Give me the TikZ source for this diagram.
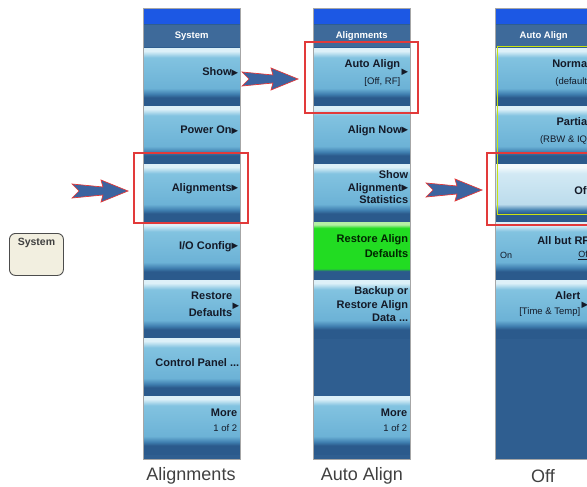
\documentclass[tikz,border=0pt]{standalone}
\usepackage{fontspec}
\setmainfont{Liberation Sans}
\newfontfamily\symfont{DejaVu Sans}

\definecolor{keyhigh}{HTML}{DDF0F8}
\definecolor{keylight}{HTML}{82C3E0}
\definecolor{keylow}{HTML}{6CB2D6}
\definecolor{keymid}{HTML}{3F7EAF}
\definecolor{keydark}{HTML}{2B5A8C}
\definecolor{onhigh}{HTML}{F2F9FC}
\definecolor{onlight}{HTML}{D2E9F4}
\definecolor{onlow}{HTML}{BCDCEC}
\definecolor{greenhigh}{HTML}{B4F0A4}
\definecolor{keygreen}{HTML}{22DC22}
\definecolor{panelblue}{HTML}{2F5E90}
\definecolor{hdrblue}{HTML}{3E6A9A}
\definecolor{barblue}{HTML}{1C58E4}
\definecolor{hlred}{HTML}{E23A3A}
\definecolor{arrowblue}{HTML}{3C64A0}
\definecolor{txtdark}{HTML}{141A28}
\definecolor{capfill}{HTML}{F2EFE0}

\pgfdeclareverticalshading{keyshade}{100bp}{color(0bp)=(keydark); color(32.5bp)=(keydark); color(35.5bp)=(keymid); color(40.5bp)=(keylow); color(67bp)=(keylight); color(72.5bp)=(keyhigh); color(100bp)=(keyhigh)}
\pgfdeclareverticalshading{keyonshade}{100bp}{color(0bp)=(keydark); color(32.5bp)=(keydark); color(35.5bp)=(keymid); color(40.5bp)=(onlow); color(67bp)=(onlight); color(72.5bp)=(onhigh); color(100bp)=(onhigh)}
\pgfdeclareverticalshading{keygreenshade}{100bp}{color(0bp)=(keydark); color(33bp)=(keydark); color(35bp)=(keygreen); color(70bp)=(keygreen); color(73bp)=(greenhigh); color(100bp)=(greenhigh)}

\newcommand{\ptr}{{\symfont\fontsize{8.5}{8}\selectfont\raisebox{0.6pt}{▶}}}
\newcommand{\smalltxt}{\mdseries\fontsize{9.5}{11}\selectfont}

\tikzset{
  softkey/.style={minimum width=97pt, minimum height=58pt, inner sep=0pt, anchor=north west, shade, shading=keyshade},
  keyon/.style={softkey, shading=keyonshade},
  keygo/.style={softkey, shading=keygreenshade},
  keytxt/.style={font=\bfseries\fontsize{11}{13.5}\selectfont, text=txtdark, align=right, inner sep=0pt, anchor=east},
  hdr/.style={minimum width=97pt, minimum height=22pt, inner sep=0pt, anchor=north west, fill=hdrblue, text=white, font=\bfseries\fontsize{9.5}{11}\selectfont},
  caption/.style={text=black!75, font=\fontsize{18}{20}\selectfont, inner sep=0pt},
  hlbox/.style={draw=hlred, line width=2pt},
  bigarrow/.style={fill=arrowblue, draw=hlred, line width=0.7pt, line join=miter}
}

\begin{document}
\begin{tikzpicture}[x=1pt, y=-1pt]
\useasboundingbox (0,0) rectangle (587,487);
\clip (0,0) rectangle (587,487);

% System menu
\fill[panelblue] (143,8) rectangle (240,459);
\fill[barblue] (143,8) rectangle (240,24);
\node[hdr] (sysh) at (143,25) {System};
\node[softkey] (sys1) at (143,48) {};
\node[softkey] (sys2) at (143,106) {};
\node[softkey] (sys3) at (143,164) {};
\node[softkey] (sys4) at (143,222) {};
\node[softkey] (sys5) at (143,280) {};
\node[softkey] (sys6) at (143,338) {};
\node[softkey] (sys7) at (143,396) {};
\draw[gray!70, line width=0.8pt] (143,8) rectangle (240,459);
\node[keytxt] (sys1t) at ([shift={(-2,-5)}]sys1.east) {Show\ptr};
\node[keytxt] (sys2t) at ([shift={(-2,-5)}]sys2.east) {Power On\ptr};
\node[keytxt] (sys3t) at ([shift={(-2,-5)}]sys3.east) {Alignments\ptr};
\node[keytxt] (sys4t) at ([shift={(-2,-5)}]sys4.east) {I/O Config\ptr};
\node[keytxt] (sys5t) at ([shift={(-8,-5)}]sys5.east) {Restore\\[3pt]Defaults};
\node[keytxt] (sys5p) at ([shift={(-1,-3)}]sys5.east) {\ptr};
\node[keytxt] (sys6t) at ([shift={(-1,-5)}]sys6.east) {Control Panel ...};
\node[keytxt] (sys7t) at ([shift={(-3,-5)}]sys7.east) {More\\[1pt]{\smalltxt 1 of 2}};

% Alignments menu
\fill[panelblue] (313,8) rectangle (410,459);
\fill[barblue] (313,8) rectangle (410,24);
\node[hdr] (alnh) at (313,25) {Alignments};
\node[softkey] (aln1) at (313,48) {};
\node[softkey] (aln2) at (313,106) {};
\node[softkey] (aln3) at (313,164) {};
\node[keygo] (aln4) at (313,222) {};
\node[softkey] (aln5) at (313,280) {};
\node[softkey] (aln7) at (313,396) {};
\draw[gray!70, line width=0.8pt] (313,8) rectangle (410,459);
\node[keytxt] (aln1t) at ([shift={(-10,-4)}]aln1.east) {Auto Align\\[3pt]{\smalltxt [Off, RF]}};
\node[keytxt] (aln1p) at ([shift={(-2,-5)}]aln1.east) {\ptr};
\node[keytxt] (aln2t) at ([shift={(-2,-5)}]aln2.east) {Align Now\ptr};
\node[keytxt, font=\bfseries\fontsize{11}{12.5}\selectfont] (aln3t) at ([shift={(-2,-6)}]aln3.east) {Show\\Alignment\ptr\\Statistics};
\node[keytxt, text=green!15!black] (aln4t) at ([shift={(-2,-5)}]aln4.east) {Restore Align\\[1pt]Defaults};
\node[keytxt] (aln5t) at ([shift={(-2,-5)}]aln5.east) {Backup or\\Restore Align\\Data ...};
\node[keytxt] (aln7t) at ([shift={(-3,-5)}]aln7.east) {More\\[1pt]{\smalltxt 1 of 2}};

% Auto Align menu
\fill[panelblue] (495,8) rectangle (592,459);
\fill[barblue] (495,8) rectangle (592,24);
\node[hdr] (autoh) at (495,25) {Auto Align};
\node[softkey] (auto1) at (495,48) {};
\node[softkey] (auto2) at (495,106) {};
\node[keyon] (auto3) at (495,164) {};
\node[softkey] (auto4) at (495,222) {};
\node[softkey] (auto5) at (495,280) {};
\draw[gray!70, line width=0.8pt] (495,8) rectangle (592,459);
\draw[yellow!80!green, line width=0.8pt] (497,46) rectangle (600,214);
\node[keytxt] (auto1t) at ([shift={(-2,-4)}]auto1.east) {Normal\\[4pt]{\smalltxt (default)}};
\node[keytxt] (auto2t) at ([shift={(-2,-4)}]auto2.east) {Partial\\[3pt]{\smalltxt (RBW \& IQ)}};
\node[keytxt] (auto3t) at ([shift={(-2,-3)}]auto3.east) {Off};
\node[keytxt] (auto4t) at ([shift={(-3,-11)}]auto4.east) {All but RF};
\node[keytxt, font=\smalltxt\fontsize{9}{10}\selectfont, anchor=west] (auto4on) at ([shift={(5,4)}]auto4.west) {On};
\node[keytxt, font=\smalltxt\fontsize{9}{10}\selectfont] (auto4off) at ([shift={(-2,4)}]auto4.east) {\underline{Off}};
\node[keytxt] (auto5t) at ([shift={(-12,-5)}]auto5.east) {Alert\\[1pt]{\smalltxt [Time \& Temp]}};
\node[keytxt] (auto5p) at ([shift={(-4,-4)}]auto5.east) {\ptr};

% front panel key
\node[draw=black!70, line width=0.9pt, fill=capfill, rounded corners=6pt, minimum width=54pt, minimum height=42pt, anchor=north west] (syskey) at (9,233) {};
\node[text=black!75, font=\bfseries\fontsize{10.5}{12}\selectfont, inner sep=0pt] (syskeyt) at ([shift={(0,10)}]syskey.north) {System};

% highlights
\draw[hlbox] (134,153) rectangle (248,223);
\draw[hlbox] (305,42) rectangle (418,113);
\draw[hlbox] (487,153) rectangle (600,225);

% pointer arrows
\filldraw[bigarrow] (128,191) -- ++(-27,-11) -- ++(2,7) -- ++(-31,-3) -- ++(7,7) -- ++(-7,7) -- ++(31,-3) -- ++(-2,7) -- cycle;
\filldraw[bigarrow] (298,79) -- ++(-27,-11) -- ++(2,7) -- ++(-31,-3) -- ++(7,7) -- ++(-7,7) -- ++(31,-3) -- ++(-2,7) -- cycle;
\filldraw[bigarrow] (482,190) -- ++(-27,-11) -- ++(2,7) -- ++(-31,-3) -- ++(7,7) -- ++(-7,7) -- ++(31,-3) -- ++(-2,7) -- cycle;

% captions
\node[caption] (capsys) at (191,476) {Alignments};
\node[caption] (capaln) at (362,476) {Auto Align};
\node[caption] (capauto) at (543,476) {Off};
\end{tikzpicture}
\end{document}
